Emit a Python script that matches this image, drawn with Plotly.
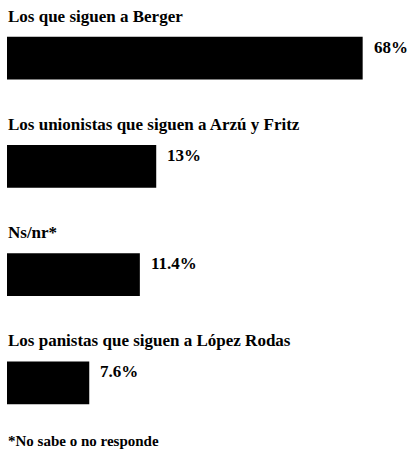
import numpy as np
import plotly.graph_objects as go

categories = [
    "Los que siguen a Berger",
    "Los unionistas que siguen a Arzú y Fritz",
    "Ns/nr*",
    "Los panistas que siguen a López Rodas",
]
values = [68, 13, 11.4, 7.6]
value_labels = ["68%", "13%", "11.4%", "7.6%"]
footnote = "*No sabe o no responde"

FONT = "Liberation Serif"
X0 = 0.5945  # log10 of axis start

fig = go.Figure(
    go.Bar(
        x=values,
        y=categories,
        orientation="h",
        marker=dict(color="black", line=dict(width=0)),
        hoverinfo="skip",
    )
)

annotations = []
for cat, v, lab in zip(categories, values, value_labels):
    annotations.append(dict(
        x=X0, xref="x", y=cat, yref="y", text="<b>%s</b>" % cat,
        xanchor="left", yanchor="middle", yshift=42, xshift=-1,
        showarrow=False, font=dict(family=FONT, size=17, color="black"),
    ))
    annotations.append(dict(
        x=np.log10(v), xref="x", y=cat, yref="y", text="<b>%s</b>" % lab,
        xanchor="left", yanchor="middle", yshift=11, xshift=9,
        showarrow=False, font=dict(family=FONT, size=17, color="black"),
    ))
annotations.append(dict(
    x=0, xref="paper", y=0, yref="paper", text="<b>%s</b>" % footnote,
    xanchor="left", yanchor="middle", yshift=-4, xshift=-1,
    showarrow=False, font=dict(family=FONT, size=15, color="black"),
))

fig.update_layout(
    width=414, height=451,
    margin=dict(l=7, r=7, t=4, b=14),
    paper_bgcolor="white", plot_bgcolor="white",
    showlegend=False,
    bargap=0.603,
    annotations=annotations,
    xaxis=dict(type="log", range=[X0, 1.9868], visible=False, fixedrange=True),
    yaxis=dict(autorange="reversed", visible=False, fixedrange=True),
)

fig.write_html(
    "out.html",
    config={"displayModeBar": False},
    post_script="document.body.style.margin='0';",
)
